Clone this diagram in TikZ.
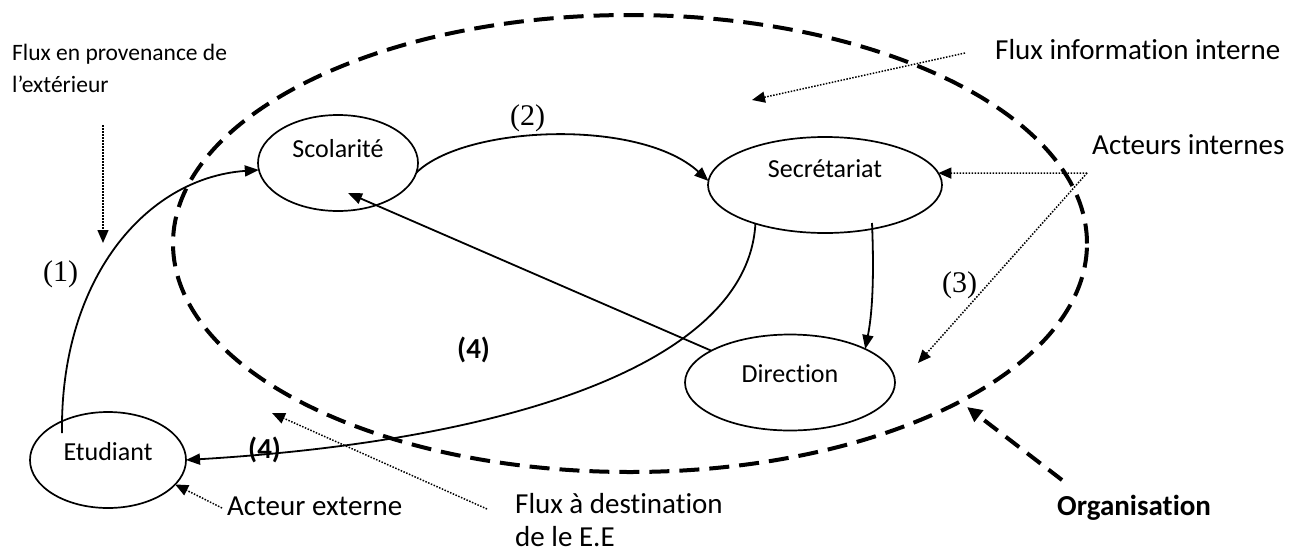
\documentclass[tikz,border=0pt]{standalone}
\usepackage{fontspec}
\setmainfont{Carlito}[Ligatures={TeX,NoCommon}]
\newfontfamily\numfont{Liberation Serif}
\usetikzlibrary{shapes.geometric,arrows.meta}

\begin{document}
\begin{tikzpicture}[x=1pt,y=-1pt,
  actor/.style={ellipse,draw,line width=1.7pt,inner sep=0pt,outer sep=0pt,
    minimum height=96pt,font=\fontsize{26}{30}\selectfont},
  flow/.style={line width=1.8pt,-{Triangle[length=14pt,width=11pt]}},
  pointer/.style={line width=1.5pt,dash pattern=on 1.5pt off 1.5pt,
    -{Triangle[length=13pt,width=11pt]}},
  orgline/.style={line width=4pt,dash pattern=on 20pt off 10pt},
  caption/.style={inner sep=0pt,anchor=base west,align=left,
    font=\fontsize{29}{33}\selectfont},
  smallcaption/.style={inner sep=0pt,anchor=base west,align=left,
    font=\fontsize{23.5}{32}\selectfont},
  num/.style={inner sep=0pt,anchor=base west,font=\numfont\fontsize{30}{34}\selectfont},
  boldnum/.style={inner sep=0pt,anchor=base west,font=\bfseries\fontsize{29}{34}\selectfont}
]
\useasboundingbox (0,0) rectangle (1305,555);

% organisation boundary
\node[ellipse,draw,orgline,minimum width=914pt,minimum height=457pt,inner sep=0pt]
  (orgzone) at (630,243.5) {};

% actors
\node[actor,minimum width=160pt,text height=10pt,text depth=22pt] (sco) at (338,163) {Scolarité};
\node[actor,minimum width=234pt,text height=10pt,text depth=26pt] (sec) at (825,185) {Secrétariat};
\node[actor,minimum width=210pt,text height=10pt,text depth=10pt] (dir) at (790,382.5) {Direction};
\node[actor,minimum width=156pt,text height=10pt,text depth=10pt] (etu) at (108,460) {Etudiant};

% information flows
\draw[flow] ([shift={(-46,-27)}]etu.center) .. controls (60,280) and (145,178) .. (sco.185);
\draw[flow] (sco.353) .. controls (465,125) and (640,118) .. (sec.178);
\draw[flow] (dir.158) -- ([shift={(10,30)}]sco.center);
\draw[flow] ([shift={(47,38)}]sec.center) .. controls (874,270) and (873,310) .. (dir.24);
\draw[flow] (sec.209) .. controls (748,360) and (520,440) .. (etu.east);

% flow numbers
\node[num] (n1) at (43,281) {(1)};
\node[num] (n2) at (510,125) {(2)};
\node[num] (n3) at (942,292) {(3)};
\node[boldnum] (n4a) at (457,358) {(4)};
\node[boldnum] (n4b) at (248,458) {(4)};

% legend texts
\node[smallcaption] (fpe) at (12,92) {Flux en provenance de\\l’extérieur};
\node[caption] (fii) at (995,59) {Flux information interne};
\node[caption] (ai) at (1092,154) {Acteurs internes};
\node[caption] (ae) at (227,515) {Acteur externe};
\node[caption] (fad) at (515,546) {Flux à destination\\de le E.E};
\node[caption,font=\bfseries\fontsize{29}{33}\selectfont] (org) at (1057,515) {Organisation};

% legend pointers
\coordinate (fpeA) at (103,125);
\coordinate (fpeB) at (103,243);
\coordinate (fiiA) at (965,53);
\coordinate (fiiB) at (752,100);
\coordinate (aiA) at (1087,173);
\coordinate (aiB) at (918,363);
\coordinate (aeA) at (222,508);
\coordinate (fadA) at (487,509);
\coordinate (fadB) at (272,413);
\coordinate (orgA) at (1062,480);
\coordinate (orgB) at (967,407);

\draw[pointer] (fpeA) -- (fpeB);
\draw[pointer] (fiiA) -- (fiiB);
\draw[pointer] (aiA) -- (sec.6);
\draw[pointer] (aiA) -- (aiB);
\draw[pointer] (aeA) -- (etu.-20);
\draw[pointer] (fadA) -- (fadB);
\draw[line width=4pt,dash pattern=on 17pt off 10pt,-{Triangle[length=15pt,width=14pt]}] (orgA) -- (orgB);
\end{tikzpicture}
\end{document}
